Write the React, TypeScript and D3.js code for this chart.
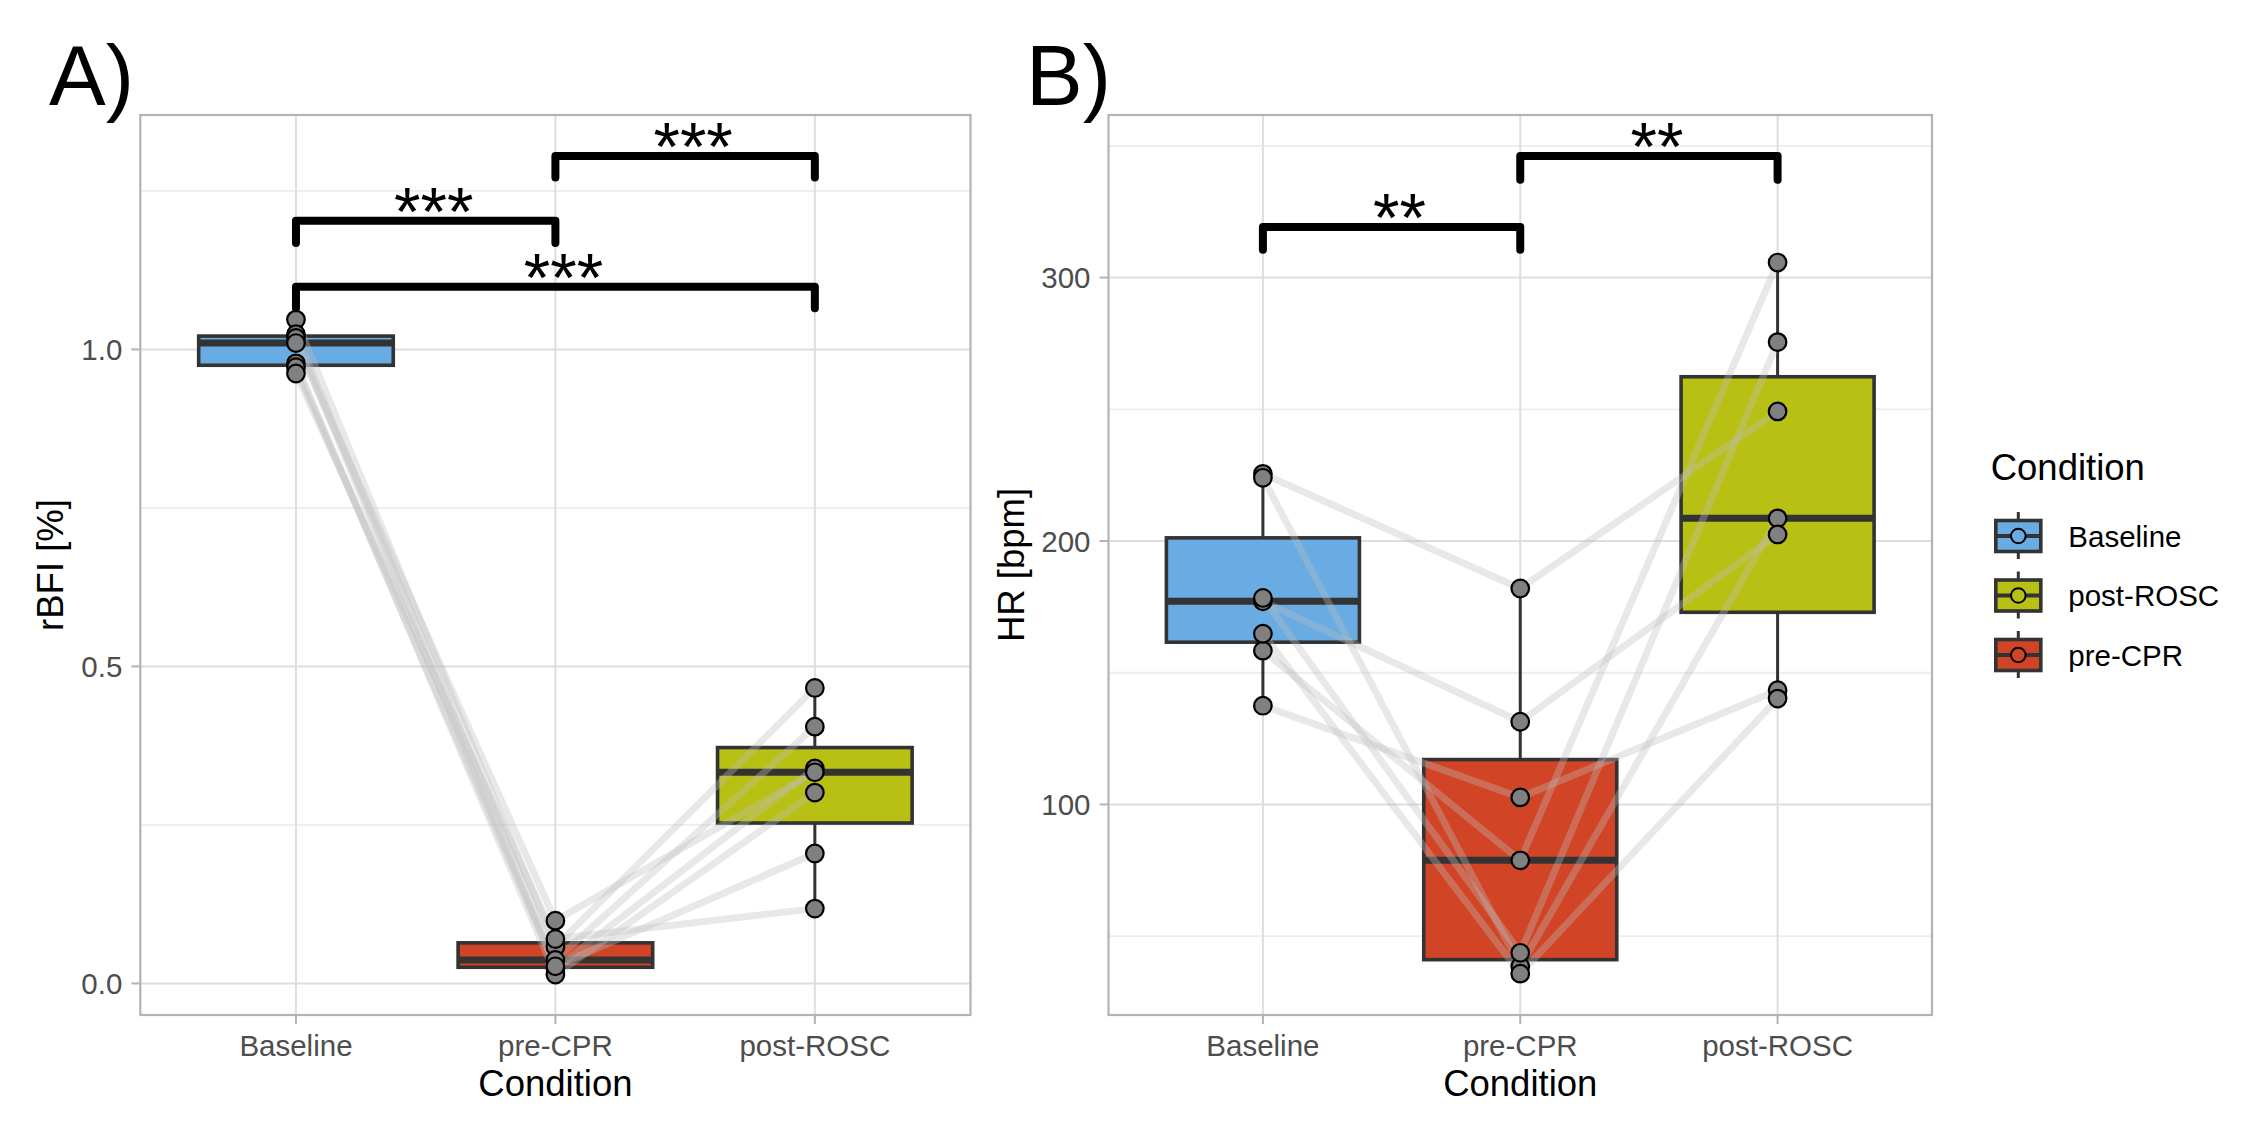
import React from "react";
import * as d3 from "d3";

const conditions = ["Baseline", "pre-CPR", "post-ROSC"];
const legendOrder = ["Baseline", "post-ROSC", "pre-CPR"];

// Panel A: rBFI per subject (same index = same subject)
const rbfiBaseline = [1.047, 1.024, 1.018, 1.01, 0.978, 0.972, 0.962];
const rbfiPreCPR = [0.058, 0.037, 0.024, 0.099, 0.014, 0.027, 0.07];
const rbfiPostROSC = [0.466, 0.405, 0.339, 0.333, 0.301, 0.205, 0.118];
const rbfiTicks = [0, 0.5, 1.0];
const rbfiMinorTicks = [0.25, 0.75, 1.25];
const rbfiTickLabels = ["0.0", "0.5", "1.0"];
const rbfiBrackets = [
  { from: "pre-CPR", to: "post-ROSC", y: 1.305, tip: 0.034, label: "***" },
  { from: "Baseline", to: "pre-CPR", y: 1.203, tip: 0.035, label: "***" },
  { from: "Baseline", to: "post-ROSC", y: 1.099, tip: 0.034, label: "***" },
];

// Panel B: HR per subject
const hrBaseline = [225.5, 224, 177.1, 178.4, 137.5, 158.4, 164.8];
const hrPreCPR = [182, 38.5, 131.4, 43.7, 102.7, 78.8, 35.8];
const hrPostROSC = [249.2, 208.6, 202.5, 275.5, 143.4, 305.7, 140.2];
const hrTicks = [100, 200, 300];
const hrMinorTicks = [50, 150, 250, 350];
const hrTickLabels = ["100", "200", "300"];
const hrBrackets = [
  { from: "pre-CPR", to: "post-ROSC", y: 346.1, tip: 9, label: "**" },
  { from: "Baseline", to: "pre-CPR", y: 319.2, tip: 8.6, label: "**" },
];

const fills: Record<string, string> = {
  Baseline: "#68ACE3",
  "pre-CPR": "#D24426",
  "post-ROSC": "#B8C113",
};

const FONT = "'Liberation Sans', Arial, Helvetica, sans-serif";

type Bracket = { from: string; to: string; y: number; tip: number; label: string };

function boxStats(vals: number[]) {
  const s = [...vals].sort((a, b) => a - b);
  const q1 = d3.quantileSorted(s, 0.25)!;
  const med = d3.quantileSorted(s, 0.5)!;
  const q3 = d3.quantileSorted(s, 0.75)!;
  const iqr = q3 - q1;
  const lo = d3.min(s.filter((v) => v >= q1 - 1.5 * iqr))!;
  const hi = d3.max(s.filter((v) => v <= q3 + 1.5 * iqr))!;
  return { q1, med, q3, lo, hi };
}

function Panel(props: {
  left: number;
  right: number;
  top: number;
  bottom: number;
  domain: [number, number];
  series: number[][];
  ticks: number[];
  tickLabels: string[];
  minorTicks: number[];
  ylabel: string;
  ylabelX: number;
  tag: string;
  tagX: number;
  brackets: Bracket[];
}) {
  const { left, right, top, bottom, domain, series, ticks, tickLabels, minorTicks } = props;
  const x = d3.scalePoint<string>().domain(conditions).range([left, right]).padding(0.6);
  const y = d3.scaleLinear().domain(domain).range([bottom, top]);
  const step = x.step();
  const hw = step * 0.375;
  const cx = (c: string) => x(c)!;
  const subjects = series[0].map((_, i) => conditions.map((c, j) => [cx(c), y(series[j][i])] as [number, number]));
  const line = d3.line();
  return (
    <g>
      <text x={props.tagX} y={105} fontFamily={FONT} fontSize={85} fill="#000">
        {props.tag}
      </text>
      <rect x={left} y={top} width={right - left} height={bottom - top} fill="#fff" />
      {minorTicks.map((t) => (
        <line key={"mi" + t} x1={left} x2={right} y1={y(t)} y2={y(t)} stroke="#EDEDED" strokeWidth={1.8} />
      ))}
      {ticks.map((t) => (
        <line key={"ma" + t} x1={left} x2={right} y1={y(t)} y2={y(t)} stroke="#DEDEDE" strokeWidth={2} />
      ))}
      {conditions.map((c) => (
        <line key={"vg" + c} x1={cx(c)} x2={cx(c)} y1={top} y2={bottom} stroke="#DEDEDE" strokeWidth={2} />
      ))}
      {/* boxplots */}
      {conditions.map((c, j) => {
        const st = boxStats(series[j]);
        return (
          <g key={"bx" + c}>
            <line x1={cx(c)} x2={cx(c)} y1={y(st.hi)} y2={y(st.q3)} stroke="#333" strokeWidth={3} />
            <line x1={cx(c)} x2={cx(c)} y1={y(st.q1)} y2={y(st.lo)} stroke="#333" strokeWidth={3} />
            <rect
              x={cx(c) - hw}
              y={y(st.q3)}
              width={hw * 2}
              height={y(st.q1) - y(st.q3)}
              fill={fills[c]}
              stroke="#333"
              strokeWidth={3.6}
            />
            <line x1={cx(c) - hw} x2={cx(c) + hw} y1={y(st.med)} y2={y(st.med)} stroke="#333" strokeWidth={7} />
          </g>
        );
      })}
      {/* paired lines */}
      {subjects.map((pts, i) => (
        <path key={"ln" + i} d={line(pts)!} fill="none" stroke="#BEBEBE" strokeOpacity={0.35} strokeWidth={7} />
      ))}
      {/* points */}
      {conditions.map((c, j) =>
        series[j].map((v, i) => (
          <circle key={"pt" + c + i} cx={cx(c)} cy={y(v)} r={8.8} fill="#808080" stroke="#000" strokeWidth={2.2} />
        ))
      )}
      {/* brackets */}
      {props.brackets.map((b, i) => {
        const x1 = cx(b.from);
        const x2 = cx(b.to);
        const yb = y(b.y);
        const yt = y(b.y - b.tip);
        return (
          <g key={"br" + i}>
            <path
              d={`M${x1},${yt}L${x1},${yb}L${x2},${yb}L${x2},${yt}`}
              fill="none"
              stroke="#000"
              strokeWidth={8}
              strokeLinecap="round"
              strokeLinejoin="round"
            />
            <text
              x={(x1 + x2) / 2 + 8}
              y={yb + 14}
              textAnchor="middle"
              fontFamily={FONT}
              fontSize={68}
              fill="#000"
            >
              {b.label}
            </text>
          </g>
        );
      })}
      {/* border */}
      <rect x={left} y={top} width={right - left} height={bottom - top} fill="none" stroke="#B3B3B3" strokeWidth={2.2} />
      {/* y ticks */}
      {ticks.map((t, i) => (
        <g key={"yt" + t}>
          <line x1={left - 9} x2={left} y1={y(t)} y2={y(t)} stroke="#B3B3B3" strokeWidth={2} />
          <text x={left - 18} y={y(t) + 10.5} textAnchor="end" fontFamily={FONT} fontSize={29.5} fill="#4D4D4D">
            {tickLabels[i]}
          </text>
        </g>
      ))}
      {/* x ticks */}
      {conditions.map((c) => (
        <g key={"xt" + c}>
          <line x1={cx(c)} x2={cx(c)} y1={bottom} y2={bottom + 9} stroke="#B3B3B3" strokeWidth={2} />
          <text x={cx(c)} y={bottom + 41} textAnchor="middle" fontFamily={FONT} fontSize={29.5} fill="#4D4D4D">
            {c}
          </text>
        </g>
      ))}
      <text x={(left + right) / 2} y={1096} textAnchor="middle" fontFamily={FONT} fontSize={36.5} fill="#000">
        Condition
      </text>
      <text
        transform={`translate(${props.ylabelX},${(top + bottom) / 2}) rotate(-90)`}
        textAnchor="middle"
        fontFamily={FONT}
        fontSize={36.5}
        fill="#000"
      >
        {props.ylabel}
      </text>
    </g>
  );
}

function Legend() {
  const keyX = 2018.3;
  const ys = [536, 595.5, 655];
  return (
    <g>
      <text x={1990.7} y={480} fontFamily={FONT} fontSize={36.5} fill="#000">
        Condition
      </text>
      {legendOrder.map((c, i) => (
        <g key={c}>
          <line x1={keyX} x2={keyX} y1={ys[i] - 24} y2={ys[i] + 23} stroke="#333" strokeWidth={3} />
          <rect x={keyX - 22.5} y={ys[i] - 15.5} width={45} height={31} fill={fills[c]} stroke="#333" strokeWidth={3.6} />
          <line x1={keyX - 22.5} x2={keyX + 22.5} y1={ys[i]} y2={ys[i]} stroke="#333" strokeWidth={4} />
          <circle cx={keyX} cy={ys[i]} r={7.3} fill={fills[c]} stroke="#000" strokeWidth={2} />
          <text x={2068.3} y={ys[i] + 10.5} fontFamily={FONT} fontSize={29.5} fill="#000">
            {c}
          </text>
        </g>
      ))}
    </g>
  );
}

export default function App() {
  return (
    <div style={{ position: "absolute", left: 0, top: 0 }}>
      <svg width={2260} height={1124} style={{ display: "block", background: "#fff" }}>
        <rect width={2260} height={1124} fill="#fff" />
        <Panel
          left={140.3}
          right={970.5}
          top={115}
          bottom={1015}
          domain={[-0.0498, 1.3697]}
          series={[rbfiBaseline, rbfiPreCPR, rbfiPostROSC]}
          ticks={rbfiTicks}
          tickLabels={rbfiTickLabels}
          minorTicks={rbfiMinorTicks}
          ylabel="rBFI [%]"
          ylabelX={63}
          tag="A)"
          tagX={49}
          brackets={rbfiBrackets}
        />
        <Panel
          left={1108.5}
          right={1932}
          top={115}
          bottom={1015}
          domain={[20.1, 361.7]}
          series={[hrBaseline, hrPreCPR, hrPostROSC]}
          ticks={hrTicks}
          tickLabels={hrTickLabels}
          minorTicks={hrMinorTicks}
          ylabel="HR [bpm]"
          ylabelX={1024}
          tag="B)"
          tagX={1026}
          brackets={hrBrackets}
        />
        <Legend />
      </svg>
    </div>
  );
}
